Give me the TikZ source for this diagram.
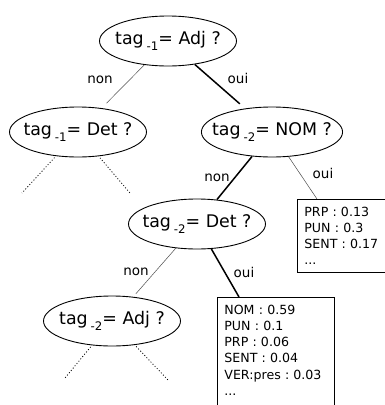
\documentclass[tikz,border=0pt]{standalone}
\usepackage{fontspec}
\setmainfont{DejaVu Sans}
\usetikzlibrary{shapes.geometric}

\newcommand{\tagsub}[1]{tag\,\raisebox{-6pt}{\fontsize{11.8}{11.8}\selectfont #1}}

\begin{document}
\begin{tikzpicture}[x=1pt,y=-1pt,
    question/.style={draw, ellipse, line width=0.9pt, minimum width=137pt, minimum height=50pt, inner xsep=-10pt, inner ysep=0pt, font=\fontsize{17.4}{19}\selectfont},
    leaf/.style={draw, rectangle, line width=0.8pt, anchor=north west, align=left, inner xsep=7pt, inner ysep=7.5pt, font=\fontsize{12.6}{16.2}\selectfont\frenchspacing},
    weak/.style={line width=0.5pt, draw=black!70},
    strong/.style={line width=1.5pt},
    cut/.style={line width=0.8pt, dash pattern=on 1pt off 2pt},
    lab/.style={font=\fontsize{13.5}{16}\selectfont, inner sep=0pt}]
        \useasboundingbox (0,0) rectangle (384,405);
        % questions
        \node [question] (root) at (168,41) {\tagsub{-1}= Adj ?};
        \node [question] (det1) at (78,132) {\tagsub{-1}= Det ?};
        \node [question] (nom) at (272,132) {\tagsub{-2}= NOM ?};
        \node [question] (det2) at (197,224) {\tagsub{-2}= Det ?};
        \node [question] (adj2) at (112,321) {\tagsub{-2}= Adj ?};
        % leaves
        \node [leaf, text width=100pt] (leafA) at (297,199) {PRP : 0.13\\PUN : 0.3\\SENT : 0.17\\...};
        \node [leaf, text width=103pt] (leafB) at (217,297) {NOM : 0.59\\PUN : 0.1\\PRP : 0.06\\SENT : 0.04\\VER:pres : 0.03\\...\\\mbox{}};
        % branches
        \draw [weak, shorten >=7pt] (root) -- (det1);
        \draw [strong, shorten >=7pt] (root) -- (nom);
        \draw [strong] (nom) -- (det2);
        \draw [weak] (nom) -- ([xshift=20pt]leafA.north west);
        \draw [weak, shorten >=4pt] (det2) -- (adj2);
        \draw [strong] (det2) -- ([xshift=22pt]leafB.north west);
        % cut subtrees
        \coordinate (det1l) at (22,193);
        \coordinate (det1r) at (130,193);
        \coordinate (adj2l) at (65,378);
        \coordinate (adj2r) at (168,380);
        \draw [cut, shorten <=2pt] (det1) -- (det1l);
        \draw [cut, shorten <=2pt] (det1) -- (det1r);
        \draw [cut, shorten <=2pt] (adj2) -- (adj2l);
        \draw [cut, shorten <=2pt] (adj2) -- (adj2r);
        % labels
        \node [lab] (n1) at (100,80) {non};
        \node [lab] (o1) at (238,78) {oui};
        \node [lab] (n2) at (217,178) {non};
        \node [lab] (o2) at (323,173) {oui};
        \node [lab] (n3) at (136,272) {non};
        \node [lab] (o3) at (244,272) {oui};
\end{tikzpicture}
\end{document}
